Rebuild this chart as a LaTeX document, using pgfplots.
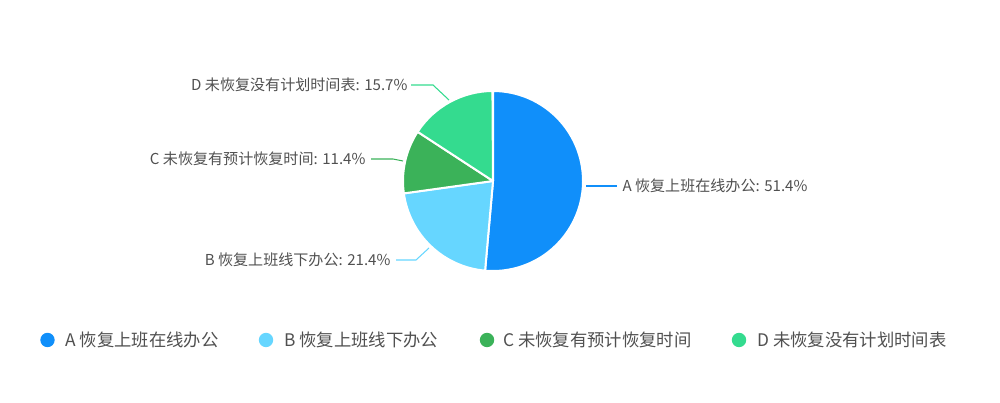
\documentclass[border=0pt]{standalone}
\usepackage{fontspec}
\setmainfont{Noto Sans CJK SC}
\usepackage{pgfplots}
\usepackage{pgfplotstable}
\pgfplotsset{compat=1.18}

\definecolor{cA}{RGB}{16,143,250}
\definecolor{cB}{RGB}{102,214,255}
\definecolor{cC}{RGB}{59,178,89}
\definecolor{cD}{RGB}{52,219,143}
\definecolor{txt}{RGB}{80,80,80}

% share of each answer (percent)
\pgfplotstableread[col sep=comma]{
key,value,color
A,51.4,cA
B,21.4,cB
C,11.4,cC
D,15.7,cD
}\piedata

\begin{document}
\begin{tikzpicture}
\begin{axis}[
  width=750pt, height=302.25pt, scale only axis,
  xmin=0, xmax=1000, ymin=0, ymax=403,
  hide axis, clip=false,
]
\path (axis cs:0,0) rectangle (axis cs:1000,403);

% pie wedges, clockwise from 12 o'clock
\pgfplotstablegetrowsof{\piedata}
\pgfmathtruncatemacro\nrows{\pgfplotsretval-1}
\def\cum{0}
\pgfplotsforeachungrouped \i in {0,...,\nrows}{%
  \pgfplotstablegetelem{\i}{value}\of\piedata \let\val\pgfplotsretval
  \pgfplotstablegetelem{\i}{color}\of\piedata \let\col\pgfplotsretval
  \pgfmathsetmacro\sa{90-3.6*\cum}
  \pgfmathsetmacro\ea{90-3.6*(\cum+\val)}
  \edef\temp{\noexpand\filldraw[fill=\col, draw=white, line width=1.5pt, line join=round]
    (axis cs:493,222) -- ++(\sa:67.5pt) arc[start angle=\sa, end angle=\ea, radius=67.5pt] -- cycle;}
  \temp
  \pgfmathsetmacro\cum{\cum+\val}
}

% leader lines and labels
\begin{scope}[line width=0.8pt, font=\fontsize{11.3}{13}\selectfont, text=txt]
\draw[cA] (586,217) -- (617,217);
\node[anchor=west, inner sep=0pt] at (622,217) {A 恢复上班在线办公: 51.4\%};
\draw[cD] (449,303) -- (433,318) -- (411,318);
\node[anchor=east, inner sep=0pt] at (408,318) {D 未恢复没有计划时间表: 15.7\%};
\draw[cC] (403,242) -- (393,244) -- (371,244);
\node[anchor=east, inner sep=0pt] at (366,244) {C 未恢复有预计恢复时间: 11.4\%};
\draw[cB] (429,155) -- (416,143) -- (396,143);
\node[anchor=east, inner sep=0pt] at (391,143) {B 恢复上班线下办公: 21.4\%};
\end{scope}

% legend
\begin{scope}[font=\fontsize{13}{15}\selectfont, text=txt]
\fill[cA] (47.5,63) circle[radius=5.4pt];
\node[anchor=west, inner sep=0pt] at (65,63) {A 恢复上班在线办公};
\fill[cB] (266,63) circle[radius=5.4pt];
\node[anchor=west, inner sep=0pt] at (284,63) {B 恢复上班线下办公};
\fill[cC] (487,63) circle[radius=5.4pt];
\node[anchor=west, inner sep=0pt] at (503,63) {C 未恢复有预计恢复时间};
\fill[cD] (739,63) circle[radius=5.4pt];
\node[anchor=west, inner sep=0pt] at (757,63) {D 未恢复没有计划时间表};
\end{scope}
\end{axis}
\end{tikzpicture}
\end{document}
